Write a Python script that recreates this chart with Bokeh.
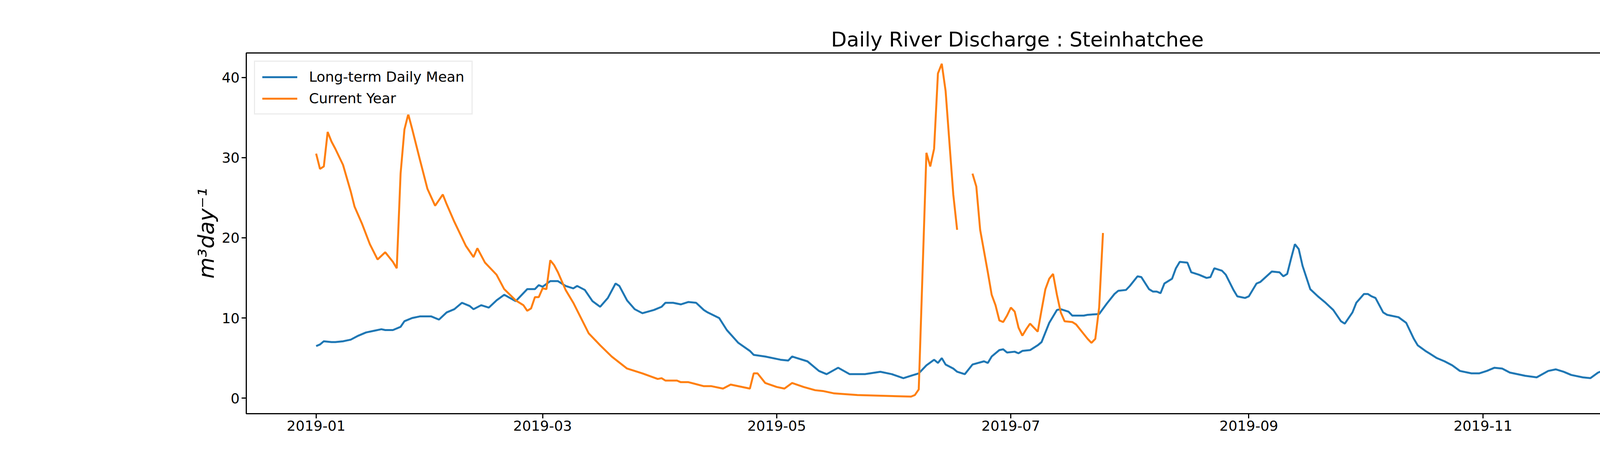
import numpy as np
import pandas as pd
from bokeh.plotting import figure
from bokeh.models import FixedTicker, DatetimeTickFormatter, Range1d, Legend
from bokeh.embed import file_html
from bokeh.resources import INLINE

start = pd.Timestamp("2019-01-01")

# day-of-year offsets and values
mean_days = [0, 1, 2, 4, 5, 7, 8, 9, 11, 13, 15, 17, 18, 20, 22, 23, 25, 27, 30, 32, 34, 36, 38, 40, 41,
             43, 45, 47, 49, 52, 55, 57, 58, 59, 61, 63, 65, 67, 68, 70, 72, 74, 76, 78, 79, 81, 83, 85,
             88, 90, 91, 93, 95, 97, 99, 101, 102, 105, 107, 110, 113, 114, 117, 121, 123, 124, 128, 131,
             133, 136, 139, 143, 147, 150, 153, 155, 157, 159, 161, 162, 163, 164, 166, 167, 169, 171, 174,
             175, 176, 178, 179, 180, 182, 183, 184, 186, 188, 189, 191, 193, 194, 196, 197, 200, 201, 204,
             206, 208, 209, 211, 212, 214, 215, 217, 218, 219, 220, 221, 223, 224, 225, 227, 228, 230, 232,
             233, 234, 236, 237, 239, 240, 242, 243, 245, 246, 249, 251, 252, 253, 254, 255, 256, 257, 259,
             261, 263, 265, 267, 268, 270, 271, 273, 274, 275, 276, 278, 279, 282, 284, 286, 287, 289, 290,
             292, 294, 296, 298, 301, 303, 305, 307, 309, 311, 315, 318, 321, 323, 325, 327, 330, 332, 334,
             338, 342, 343, 346, 348, 350, 352, 355, 357, 360, 361, 363, 364]
mean_vals = [6.5, 6.7, 7.1, 7.0, 7.0, 7.1, 7.2, 7.3, 7.8, 8.2, 8.4, 8.6, 8.5, 8.5, 8.9, 9.6, 10.0, 10.2, 10.2,
             9.8, 10.7, 11.1, 11.9, 11.5, 11.1, 11.6, 11.3, 12.2, 12.9, 12.1, 13.6, 13.6, 14.1, 13.9, 14.6,
             14.6, 14.0, 13.7, 14.0, 13.5, 12.1, 11.4, 12.5, 14.3, 14.0, 12.2, 11.1, 10.6, 11.0, 11.4, 11.9,
             11.9, 11.7, 12.0, 11.9, 11.0, 10.7, 10.0, 8.5, 6.9, 5.9, 5.4, 5.2, 4.8, 4.7, 5.2, 4.6, 3.4, 3.0,
             3.8, 3.0, 3.0, 3.3, 3.0, 2.5, 2.8, 3.1, 4.1, 4.8, 4.4, 5.0, 4.2, 3.7, 3.3, 3.0, 4.2, 4.6, 4.4,
             5.2, 6.0, 6.1, 5.7, 5.8, 5.6, 5.9, 6.0, 6.6, 7.0, 9.4, 11.0, 11.1, 10.8, 10.3, 10.3, 10.4, 10.5,
             11.8, 13.0, 13.4, 13.5, 14.0, 15.2, 15.1, 13.6, 13.3, 13.3, 13.1, 14.3, 14.9, 16.2, 17.0, 16.9,
             15.7, 15.4, 15.0, 15.1, 16.2, 15.9, 15.4, 13.5, 12.7, 12.5, 12.7, 14.3, 14.5, 15.8, 15.7, 15.2,
             15.5, 17.4, 19.2, 18.6, 16.5, 13.6, 12.7, 11.9, 11.0, 9.6, 9.3, 10.7, 11.9, 13.0, 13.0, 12.7,
             12.5, 10.7, 10.4, 10.1, 9.4, 7.4, 6.6, 5.9, 5.6, 5.0, 4.6, 4.1, 3.4, 3.1, 3.1, 3.4, 3.8, 3.7,
             3.2, 2.8, 2.6, 3.4, 3.6, 3.3, 2.9, 2.6, 2.5, 3.2, 3.9, 4.3, 4.6, 4.9, 5.8, 6.0, 5.7, 5.3, 5.2,
             5.9, 5.9, 6.2, 6.2]

cur_days = [0, 1, 2, 3, 4, 5, 7, 9, 10, 12, 14, 16, 18, 20, 21, 22, 23, 24, 25, 27, 29, 31, 33, 34, 36, 39,
            41, 42, 44, 47, 49, 52, 54, 55, 56, 57, 58, 59, 60, 61, 62, 63, 65, 67, 69, 71, 74, 77, 81, 85,
            89, 90, 91, 94, 95, 97, 101, 103, 106, 108, 113, 114, 115, 117, 120, 122, 124, 127, 130, 132,
            135, 141, 155, 156, 157, 159, 160, 161, 162, 163, 164, 166, 167, 169, 171, 172, 173, 175, 176,
            177, 178, 179, 180, 181, 182, 183, 184, 185, 186, 187, 188, 189, 190, 191, 192, 193, 194, 195,
            197, 198, 200, 201, 202, 203, 204, 205]
cur_vals = [30.5, 28.6, 28.9, 33.2, 32.0, 31.1, 29.1, 25.8, 23.9, 21.7, 19.2, 17.3, 18.2, 17.0, 16.2, 28.0,
            33.5, 35.4, 33.6, 29.8, 26.1, 24.0, 25.4, 24.2, 22.0, 19.0, 17.6, 18.7, 16.9, 15.4, 13.6, 12.2,
            11.6, 10.9, 11.2, 12.6, 12.6, 13.7, 13.6, 17.2, 16.6, 15.7, 13.5, 11.9, 10.0, 8.1, 6.6, 5.2,
            3.7, 3.1, 2.4, 2.5, 2.2, 2.2, 2.0, 2.0, 1.5, 1.5, 1.2, 1.7, 1.2, 3.1, 3.1, 1.9, 1.4, 1.2, 1.9,
            1.4, 1.0, 0.9, 0.6, 0.4, 0.2, 0.4, 1.1, 30.6, 28.9, 31.1, 40.5, 41.7, 38.3, 25.4, 21.0,
            float("nan"), 28.0, 26.4, 21.0, 15.7, 12.9, 11.6, 9.7, 9.5, 10.3, 11.3, 10.8, 8.8, 7.8, 8.6,
            9.3, 8.8, 8.3, 11.0, 13.6, 14.9, 15.5, 12.9, 10.7, 9.6, 9.5, 9.2, 8.0, 7.4, 6.9, 7.4, 11.3, 20.6]

tick_dates = ["2019-01-01", "2019-03-01", "2019-05-01", "2019-07-01", "2019-09-01", "2019-11-01", "2020-01-01"]

mean_x = [start + pd.Timedelta(days=d) for d in mean_days]
cur_x = [start + pd.Timedelta(days=d) for d in cur_days]

p = figure(width=5084, height=1184, x_axis_type="datetime", output_backend="svg", toolbar_location=None,
           title="Daily River Discharge : Steinhatchee")
p.min_border_left = 630
p.min_border_right = 506
p.min_border_top = 135
p.min_border_bottom = 126
p.x_range = Range1d(start - pd.Timedelta(days=18.2), start + pd.Timedelta(days=383.6))
p.y_range = Range1d(-1.93, 43.05)

l1 = p.line(mean_x, mean_vals, line_color="#1f77b4", line_width=5)
l2 = p.line(cur_x, cur_vals, line_color="#ff7f0e", line_width=5)

leg = Legend(items=[("Long-term Daily Mean", [l1]), ("Current Year", [l2])], location="top_left")
leg.label_text_font = "DejaVu Sans"
leg.label_text_font_size = "36px"
leg.label_text_color = "black"
leg.glyph_width = 90
leg.label_standoff = 30
leg.border_line_color = "#d9d9d9"
leg.border_line_width = 3
leg.margin = 20
leg.padding = 18
leg.spacing = 14
p.add_layout(leg)

p.title.align = "center"
p.title.text_font = "DejaVu Sans"
p.title.text_font_size = "52px"
p.title.text_font_style = "normal"
p.title.text_color = "black"

p.xaxis.ticker = FixedTicker(ticks=[pd.Timestamp(t).value / 1e6 for t in tick_dates])
p.xaxis.formatter = DatetimeTickFormatter(days="%Y-%m", months="%Y-%m", years="%Y-%m")
p.yaxis.ticker = FixedTicker(ticks=[0, 10, 20, 30, 40])
p.yaxis.axis_label = "m³day⁻¹"
p.yaxis.axis_label_text_font = "DejaVu Sans"
p.yaxis.axis_label_text_font_style = "italic"
p.yaxis.axis_label_text_font_size = "56px"
p.yaxis.axis_label_text_color = "black"
for ax in (p.xaxis, p.yaxis):
    ax.major_label_text_font = "DejaVu Sans"
    ax.major_label_text_font_size = "36px"
    ax.major_label_text_color = "black"
    ax.axis_line_color = None
    ax.major_tick_line_width = 3
    ax.major_tick_line_color = "black"
    ax.major_tick_out = 12
    ax.major_tick_in = 0
    ax.minor_tick_line_color = None
p.xgrid.visible = False
p.ygrid.visible = False
p.outline_line_color = "black"
p.outline_line_width = 3

open("out.html", "w").write(file_html(p, INLINE))
